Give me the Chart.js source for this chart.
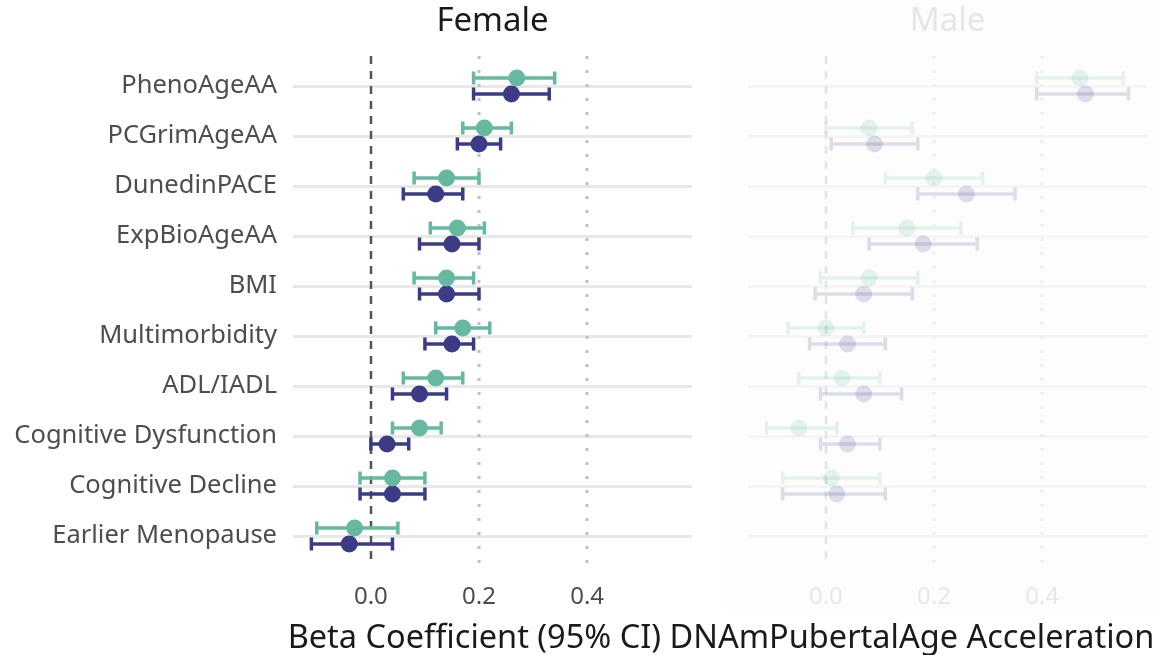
<!DOCTYPE html>
<html>
<head>
<meta charset="utf-8">
<script src="https://cdn.jsdelivr.net/npm/chart.js@4.4.1/dist/chart.umd.min.js"></script>
<style>
  body { margin: 0; background: #fff; }
  #wrap { position: relative; width: 1160px; height: 655px; overflow: hidden; }
  #femaleBox { position: absolute; left: 0; top: 0; width: 720px; height: 655px; }
  #maleBox { position: absolute; left: 727px; top: 0; width: 433px; height: 610px; }
  #xTitle { position: absolute; left: 0; width: 1160px; top: 615px; padding-left: 282px; box-sizing: border-box;
    text-align: center; font-family: "Noto Sans", sans-serif; font-size: 32.5px; color: #1a1a1a; line-height: 42px;
    white-space: nowrap; }
</style>
</head>
<body>
<div id="wrap">
  <div id="femaleBox"><canvas id="female"></canvas></div>
  <div id="maleBox"><canvas id="male"></canvas></div>
  <div id="xTitle">Beta Coefficient (95% CI) DNAmPubertalAge Acceleration</div>
</div>
<script>
const outcomes = ['PhenoAgeAA', 'PCGrimAgeAA', 'DunedinPACE', 'ExpBioAgeAA', 'BMI',
  'Multimorbidity', 'ADL/IADL', 'Cognitive Dysfunction', 'Cognitive Decline', 'Earlier Menopause'];
const xTicks = [0, 0.2, 0.4];

// female, first (teal) series
const femA = [0.27, 0.21, 0.14, 0.16, 0.14, 0.17, 0.12, 0.09, 0.04, -0.03];
const femAlo = [0.19, 0.17, 0.08, 0.11, 0.08, 0.12, 0.06, 0.04, -0.02, -0.10];
const femAhi = [0.34, 0.26, 0.20, 0.21, 0.19, 0.22, 0.17, 0.13, 0.10, 0.05];
// female, second (purple) series
const femB = [0.26, 0.20, 0.12, 0.15, 0.14, 0.15, 0.09, 0.03, 0.04, -0.04];
const femBlo = [0.19, 0.16, 0.06, 0.09, 0.09, 0.10, 0.04, 0.00, -0.02, -0.11];
const femBhi = [0.33, 0.24, 0.17, 0.20, 0.20, 0.19, 0.14, 0.07, 0.10, 0.04];

// male (no menopause row)
const maleA = [0.47, 0.08, 0.20, 0.15, 0.08, 0.00, 0.03, -0.05, 0.01, null];
const maleAlo = [0.39, 0.00, 0.11, 0.05, -0.01, -0.07, -0.05, -0.11, -0.08, null];
const maleAhi = [0.55, 0.16, 0.29, 0.25, 0.17, 0.07, 0.10, 0.02, 0.10, null];
const maleB = [0.48, 0.09, 0.26, 0.18, 0.07, 0.04, 0.07, 0.04, 0.02, null];
const maleBlo = [0.39, 0.01, 0.17, 0.08, -0.02, -0.03, -0.01, -0.01, -0.08, null];
const maleBhi = [0.56, 0.17, 0.35, 0.28, 0.16, 0.11, 0.14, 0.10, 0.11, null];

const FONT = '"Noto Sans", sans-serif';
const OFF = 0.16;

function pts(est, off) {
    let out = [];
    est.forEach((v, i) => { if (v != null) out.push({ x: v, y: i + off }); });
    return out;
}

// ref lines + whiskers, drawn under the points
const forestPlugin = {
    id: 'forest',
    beforeDatasetsDraw(chart, args, opts) {
	const ctx = chart.ctx;
	const xs = chart.scales.x, ys = chart.scales.y;
	const area = chart.chartArea;
	ctx.save();
	xTicks.forEach(t => {
	    const px = Math.round(xs.getPixelForValue(t));
	    ctx.beginPath();
	    if (t === 0) {
		ctx.strokeStyle = opts.zeroColor;
		ctx.lineWidth = 2.5;
		ctx.setLineDash([8, 7]);
	    } else {
		ctx.strokeStyle = opts.dotColor;
		ctx.lineWidth = 3;
		ctx.setLineDash([3, 11]);
	    }
	    ctx.moveTo(px, area.top);
	    ctx.lineTo(px, area.bottom);
	    ctx.stroke();
	});
	ctx.setLineDash([]);
	chart.data.datasets.forEach(ds => {
	    ctx.strokeStyle = ds.backgroundColor;
	    ctx.lineWidth = 3.5;
	    ds.lo.forEach((lo, i) => {
		if (lo == null) return;
		const y = ys.getPixelForValue(i + ds.off);
		const x1 = xs.getPixelForValue(lo), x2 = xs.getPixelForValue(ds.hi[i]);
		ctx.beginPath();
		ctx.moveTo(x1, y); ctx.lineTo(x2, y);
		ctx.moveTo(x1, y - 6.5); ctx.lineTo(x1, y + 6.5);
		ctx.moveTo(x2, y - 6.5); ctx.lineTo(x2, y + 6.5);
		ctx.stroke();
	    });
	});
	ctx.restore();
    }
};

// panel background + strip title centred over the plot area
const panelDeco = {
    id: 'panelDeco',
    beforeDraw(chart, args, opts) {
	if (!opts.bg) return;
	const ctx = chart.ctx;
	ctx.save();
	ctx.fillStyle = opts.bg;
	ctx.fillRect(0, 0, chart.width, chart.height);
	ctx.restore();
    },
    afterDraw(chart, args, opts) {
	const ctx = chart.ctx;
	const a = chart.chartArea;
	ctx.save();
	ctx.fillStyle = opts.titleColor;
	ctx.font = '33px ' + FONT;
	ctx.textAlign = 'center';
	ctx.textBaseline = 'middle';
	ctx.fillText(opts.title, (a.left + a.right) / 2, 22);
	ctx.restore();
    }
};

function makePanel(id, title, a, alo, ahi, b, blo, bhi, faded) {
    const colA = faded ? 'rgba(102,185,160,0.16)' : '#66b9a0';
    const colB = faded ? 'rgba(59,59,134,0.16)' : '#3b3b86';
    const leftW = faded ? 21 : 293;
    const rightPad = faded ? 13 : 28;
    const bottomH = faded ? 44 : 89;
    return new Chart(document.getElementById(id), {
	type: 'scatter',
	data: {
	    datasets: [
		{ label: 'A', data: pts(a, -OFF), lo: alo, hi: ahi, off: -OFF,
		  backgroundColor: colA, borderColor: colA, borderWidth: 0, pointRadius: 8.5, pointHoverRadius: 8.5 },
		{ label: 'B', data: pts(b, OFF), lo: blo, hi: bhi, off: OFF,
		  backgroundColor: colB, borderColor: colB, borderWidth: 0, pointRadius: 8.5, pointHoverRadius: 8.5 }
	    ]
	},
	options: {
	    responsive: true,
	    maintainAspectRatio: false,
	    animation: false,
	    layout: { padding: { left: 0, right: rightPad, top: 56, bottom: 0 } },
	    plugins: {
		legend: { display: false },
		tooltip: { enabled: false },
		title: { display: false },
		forest: { zeroColor: faded ? '#e4e4e4' : '#555555', dotColor: faded ? '#efefef' : '#c0c0c0' },
		panelDeco: { bg: faded ? '#fdfdfd' : null, title: title, titleColor: faded ? '#e6e6e6' : '#1a1a1a' }
	    },
	    scales: {
		x: {
		    type: 'linear', min: -0.144, max: 0.594,
		    afterBuildTicks: s => { s.ticks = xTicks.map(v => ({ value: v })); },
		    afterFit: s => { s.height = bottomH; },
		    grid: { display: false, drawTicks: false },
		    border: { display: false },
		    ticks: {
			padding: 17,
			color: faded ? '#e8e8e8' : '#4d4d4d',
			font: { family: FONT, size: 24, lineHeight: 1.2 },
			callback: v => v.toFixed(1)
		    }
		},
		y: {
		    type: 'linear', min: -0.6, max: outcomes.length - 0.4, reverse: true,
		    afterBuildTicks: s => { s.ticks = outcomes.map((o, i) => ({ value: i })); },
		    afterFit: s => { s.width = leftW; },
		    grid: { color: faded ? '#f5f5f5' : '#e8e8e8', lineWidth: 3, drawTicks: false },
		    border: { display: false },
		    ticks: {
			display: !faded,
			padding: 16,
			color: '#4d4d4d',
			font: { family: FONT, size: 25.5 },
			callback: v => outcomes[v]
		    }
		}
	    }
	},
	plugins: [panelDeco, forestPlugin]
    });
}

makePanel('female', 'Female', femA, femAlo, femAhi, femB, femBlo, femBhi, false);
makePanel('male', 'Male', maleA, maleAlo, maleAhi, maleB, maleBlo, maleBhi, true);
</script>
</body>
</html>
